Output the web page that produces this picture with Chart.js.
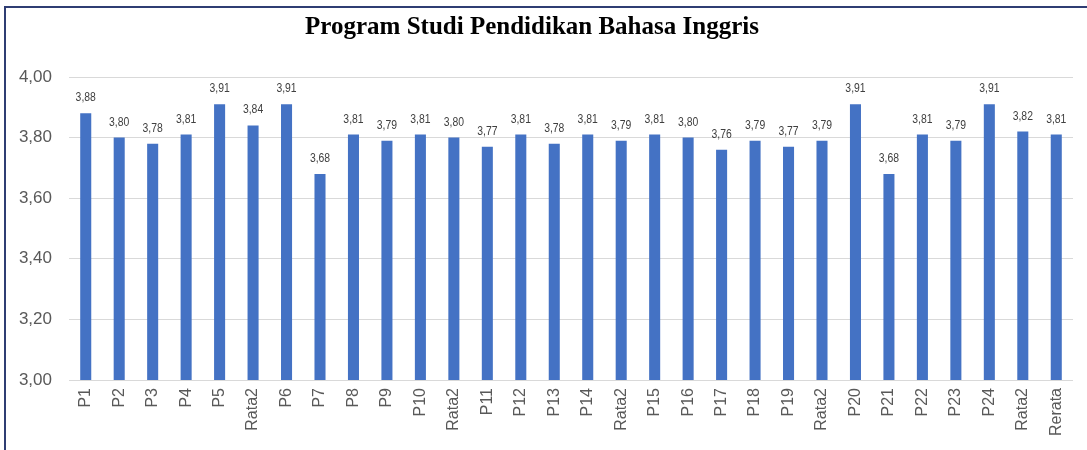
<!DOCTYPE html>
<html>
<head>
<meta charset="utf-8">
<script src="https://cdn.jsdelivr.net/npm/chart.js@4/dist/chart.umd.min.js"></script>
<style>
  html, body { margin: 0; padding: 0; background: #fff; overflow: hidden; }
  #wrap { position: relative; width: 1087px; height: 450px; overflow: hidden; }
  #realTimeChart { position: absolute; left: -9px; top: 0; }
  #frame { position: absolute; left: 4px; top: 6px; width: 1100px; height: 460px;
           border-left: 2px solid #2f3d73; border-top: 2px solid #2f3d73; }
</style>
</head>
<body>
<div id="wrap">
  <canvas id="realTimeChart" width="1096" height="450"></canvas>
  <div id="frame"></div>
</div>
<script>
const labels = [
  "P1", "P2", "P3", "P4", "P5", "Rata2",
  "P6", "P7", "P8", "P9", "P10", "Rata2",
  "P11", "P12", "P13", "P14", "Rata2",
  "P15", "P16", "P17", "P18", "P19", "Rata2",
  "P20", "P21", "P22", "P23", "P24", "Rata2",
  "Rerata"
];
const scores = [
  3.88, 3.80, 3.78, 3.81, 3.91, 3.84,
  3.91, 3.68, 3.81, 3.79, 3.81, 3.80,
  3.77, 3.81, 3.78, 3.81, 3.79,
  3.81, 3.80, 3.76, 3.79, 3.77, 3.79,
  3.91, 3.68, 3.81, 3.79, 3.91, 3.82,
  3.81
];
const yTicks = [3.0, 3.2, 3.4, 3.6, 3.8, 4.0];

const fmt = v => v.toFixed(2).replace(".", ",");

// value labels above each bar (narrow look: squeeze horizontally)
const valueLabels = {
  id: "valueLabels",
  afterDatasetsDraw(chart) {
    const c = chart.ctx;
    chart.getDatasetMeta(0).data.forEach((bar, i) => {
      c.save();
      c.font = "13px 'Liberation Sans', Arial, sans-serif";
      c.fillStyle = "#404040";
      c.textAlign = "center";
      c.textBaseline = "alphabetic";
      c.translate(bar.x, bar.y - 12);
      c.scale(0.8, 1);
      c.fillText(fmt(scores[i]), 0, 0);
      c.restore();
    });
  }
};

const ctx = document.getElementById("realTimeChart").getContext("2d");
const chart = new Chart(ctx, {
  type: "bar",
  data: {
    labels: labels,
    datasets: [{
      label: "Program Studi Pendidikan Bahasa Inggris",
      data: scores,
      backgroundColor: "#4472c4",
      barPercentage: 0.66,
      categoryPercentage: 0.5
    }]
  },
  options: {
    responsive: false,
    animation: false,
    layout: { padding: { left: 0, right: 14, top: 0, bottom: 0 } },
    plugins: {
      legend: { display: false },
      tooltip: { enabled: false },
      title: {
        display: true,
        text: "Program Studi Pendidikan Bahasa Inggris",
        color: "#000",
        font: { family: "'Liberation Serif', 'Times New Roman', serif", size: 25, weight: "bold", lineHeight: 1.2 },
        padding: { top: 13, bottom: 34 }
      }
    },
    scales: {
      x: {
        grid: { display: false, drawTicks: false },
        border: { display: false },
        ticks: {
          color: "#595959",
          font: { family: "'Liberation Sans', Arial, sans-serif", size: 16 },
          minRotation: 90, maxRotation: 90,
          autoSkip: false,
          padding: 8
        },
        afterFit: s => { s.height = 70; }
      },
      y: {
        min: 3, max: 4,
        afterBuildTicks: s => { s.ticks = yTicks.map(v => ({ value: v })); },
        grid: { color: "#d9d9d9", lineWidth: 1, drawTicks: false },
        border: { display: false },
        ticks: {
          color: "#595959",
          font: { family: "'Liberation Sans', Arial, sans-serif", size: 17 },
          padding: 17,
          callback: v => fmt(v)
        },
        afterFit: s => { s.width = 78; }
      }
    }
  },
  plugins: [valueLabels]
});
</script>
</body>
</html>
